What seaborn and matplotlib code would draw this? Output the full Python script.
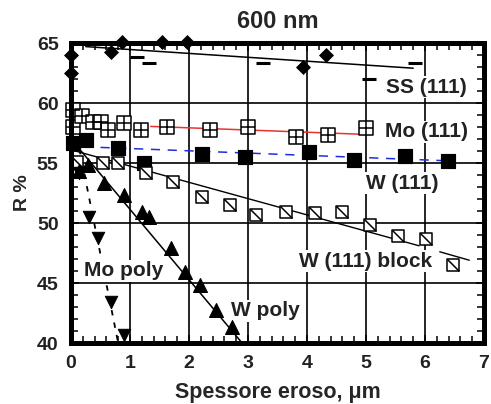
import numpy as np
import matplotlib
matplotlib.use("Agg")
import matplotlib.pyplot as plt
from matplotlib.path import Path
from matplotlib.ticker import MultipleLocator
import seaborn as sns

# =========================
# Data
# =========================

# SS (111): diamonds and dashes
ss_dia_x = [0.0, 0.0, 0.67, 0.87, 1.54, 1.97, 3.94, 4.32]
ss_dia_y = [64.0, 62.5, 64.25, 65.1, 65.1, 65.1, 63.0, 64.0]
ss_dash_x = [1.12, 1.32, 3.25, 5.05, 5.83]
ss_dash_y = [63.8, 63.3, 63.3, 62.0, 63.3]
ss_fit_x = [0.25, 5.8]
ss_fit_y = [64.7, 62.9]

# Mo (111): squares with a cross
mo111_x = [0.03, 0.03, 0.18, 0.37, 0.5, 0.62, 0.9, 1.18, 1.63, 2.36, 3.0, 3.82, 4.35, 5.0]
mo111_y = [59.4, 58.0, 58.9, 58.4, 58.4, 57.75, 58.3, 57.75, 58.0, 57.75, 58.0, 57.2, 57.3, 57.9]
mo111_fit_x = [1.35, 4.9]
mo111_fit_y = [58.05, 57.4]

# W (111): filled squares
w111_x = [0.03, 0.26, 0.8, 1.24, 2.22, 2.95, 4.03, 4.8, 5.66, 6.39]
w111_y = [56.7, 56.9, 56.25, 55.0, 55.75, 55.5, 55.9, 55.25, 55.6, 55.2]
w111_fit_x = [0.5, 6.3]
w111_fit_y = [56.3, 55.2]

# W (111) block: squares with a diagonal
wblk_x = [0.1, 0.55, 0.8, 1.27, 1.73, 2.22, 2.69, 3.14, 3.65, 4.13, 4.59, 5.07, 5.54, 6.01, 6.48]
wblk_y = [55.1, 55.0, 55.0, 54.2, 53.4, 52.2, 51.5, 50.7, 50.9, 50.8, 50.9, 49.8, 48.9, 48.7, 46.5]
wblk_fit_x = [0.0, 5.9]
wblk_fit_y = [56.1, 48.1]
wblk_ext_x = [6.25, 6.75]
wblk_ext_y = [47.6, 46.9]

# W poly: triangles
wpoly_x = [0.14, 0.29, 0.56, 0.9, 1.2, 1.32, 1.69, 1.94, 2.19, 2.45, 2.73]
wpoly_y = [54.3, 54.8, 53.3, 52.3, 50.9, 50.5, 47.9, 45.9, 44.8, 42.75, 41.3]
wpoly_fit_x = [0.0, 2.9]
wpoly_fit_y = [57.0, 40.0]

# Mo poly: inverted triangles
mopoly_x = [0.14, 0.31, 0.45, 0.68, 0.9]
mopoly_y = [54.2, 50.5, 48.75, 43.4, 40.7]
mopoly_fit_x = [0.1, 0.8]
mopoly_fit_y = [57.2, 40.0]

# Labels: text, x, y
labels = ["SS (111)", "Mo (111)", "W (111)", "W (111) block", "Mo poly", "W poly"]
label_x = [6.03, 6.03, 5.62, 4.99, 0.9, 3.3]
label_y = [61.3, 57.6, 53.3, 46.8, 46.0, 42.7]

# =========================
# Plot
# =========================
sns.set_theme(style="white")
plt.rcParams["font.family"] = ["Liberation Sans", "DejaVu Sans"]

fig = plt.figure(figsize=(4.91, 4.04), dpi=100)
ax = fig.add_axes([71 / 491, 61 / 404, 413 / 491, 300 / 404])

# fit lines
line_kw = dict(ax=ax, estimator=None, sort=False, legend=False, zorder=2)
sns.lineplot(x=ss_fit_x, y=ss_fit_y, color="black", linewidth=1.1, **line_kw)
sns.lineplot(x=mo111_fit_x, y=mo111_fit_y, color="#e8342e", linewidth=1.1, **line_kw)
sns.lineplot(x=w111_fit_x, y=w111_fit_y, color="#1f2de0", linewidth=1.1,
             linestyle=(0, (6, 5)), **line_kw)
sns.lineplot(x=wblk_fit_x, y=wblk_fit_y, color="black", linewidth=1.0, **line_kw)
sns.lineplot(x=wblk_ext_x, y=wblk_ext_y, color="black", linewidth=1.0, **line_kw)
sns.lineplot(x=wpoly_fit_x, y=wpoly_fit_y, color="black", linewidth=1.1, **line_kw)
sns.lineplot(x=mopoly_fit_x, y=mopoly_fit_y, color="black", linewidth=1.3,
             linestyle=(0, (3, 4)), **line_kw)

# markers
sc_kw = dict(ax=ax, legend=False, zorder=4, clip_on=False)
diag = Path([(-0.5, 0.5), (0.5, -0.5)], [Path.MOVETO, Path.LINETO])

sns.scatterplot(x=ss_dia_x, y=ss_dia_y, marker="D", s=50, color="black", edgecolor="black", **sc_kw)
sns.scatterplot(x=ss_dash_x, y=ss_dash_y, marker="_", s=110, color="black", linewidth=2.2, **sc_kw)

sns.scatterplot(x=mo111_x, y=mo111_y, marker="s", s=95, color="white", edgecolor="black", linewidth=1.1, **sc_kw)
sns.scatterplot(x=mo111_x, y=mo111_y, marker="+", s=95, color="black", linewidth=1.1, **sc_kw)

sns.scatterplot(x=w111_x, y=w111_y, marker="s", s=110, color="black", edgecolor="black", **sc_kw)

sns.scatterplot(x=wblk_x, y=wblk_y, marker="s", s=75, color="white", edgecolor="black", linewidth=1.1, **sc_kw)
sns.scatterplot(x=wblk_x, y=wblk_y, marker=diag, s=75, color="black", edgecolor="black", linewidth=1.1, **sc_kw)

sns.scatterplot(x=wpoly_x, y=wpoly_y, marker="^", s=100, color="black", edgecolor="black", **sc_kw)
sns.scatterplot(x=mopoly_x, y=mopoly_y, marker="v", s=80, color="black", edgecolor="black", **sc_kw)

# labels with white background
for txt, tx, ty in zip(labels, label_x, label_y):
    ax.text(tx, ty, txt, ha="center", va="center", fontsize=15, fontweight="bold",
            color="#222222", zorder=3,
            bbox=dict(facecolor="white", edgecolor="none", pad=1.0))

# axes
ax.set_xlim(0, 7)
ax.set_ylim(40, 65)
ax.xaxis.set_major_locator(MultipleLocator(1))
ax.xaxis.set_minor_locator(MultipleLocator(0.2))
ax.yaxis.set_major_locator(MultipleLocator(5))
ax.yaxis.set_minor_locator(MultipleLocator(1))
ax.grid(True, which="major", color="black", linewidth=1.2)
ax.set_axisbelow(True)
for sp in ax.spines.values():
    sp.set_color("black")
    sp.set_linewidth(3.6)
    sp.set_zorder(5)
ax.tick_params(which="both", direction="in", top=True, right=True, bottom=True, left=True,
               color="black", width=1.1)
ax.tick_params(which="major", length=6, labelsize=14)
ax.tick_params(axis="x", which="major", pad=9)
ax.tick_params(axis="y", which="major", pad=9)
ax.tick_params(which="minor", length=5)
for lab in ax.get_xticklabels() + ax.get_yticklabels():
    lab.set_fontweight("bold")
    lab.set_color("#222222")

ax.set_xlabel("Spessore eroso, \u03bcm", fontsize=15.5, fontweight="bold", labelpad=7)
ax.set_ylabel("R %", fontsize=14, fontweight="bold", labelpad=4)
ax.set_title("600 nm", fontsize=17, fontweight="bold", pad=11)

fig.savefig("out.png", dpi=100, facecolor="white")
